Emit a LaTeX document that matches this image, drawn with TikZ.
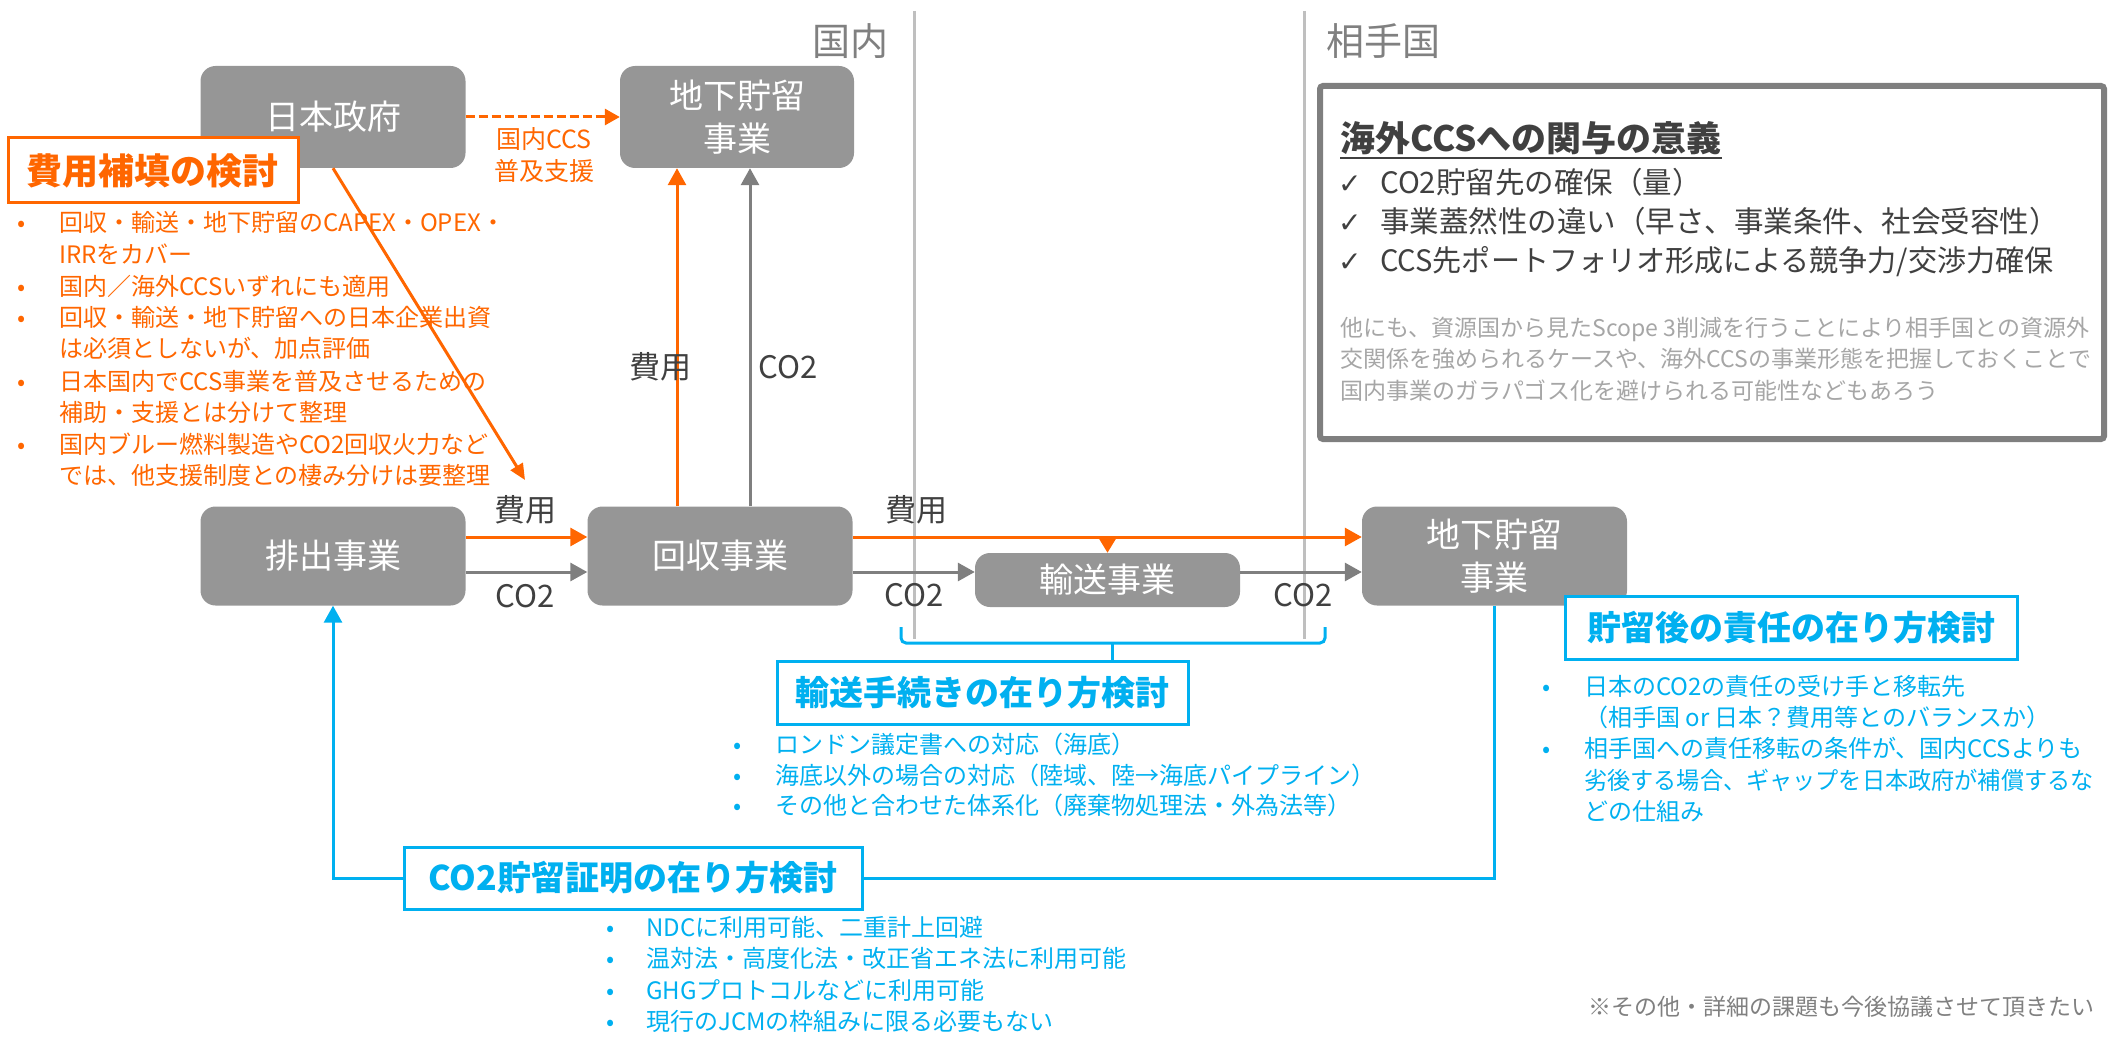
\documentclass[tikz,border=0pt]{standalone}
\usepackage{fontspec}
\usepackage{graphicx}
\setmainfont{Noto Sans CJK JP}
\newfontfamily\symfont{DejaVu Sans}
\usetikzlibrary{arrows.meta}
\definecolor{boxgray}{RGB}{150,150,150}
\definecolor{orng}{RGB}{255,102,0}
\definecolor{cyn}{RGB}{0,176,240}
\definecolor{dgray}{RGB}{64,64,64}
\definecolor{agray}{RGB}{127,127,127}
\definecolor{lgray}{RGB}{191,191,191}
\definecolor{pgray}{RGB}{166,166,166}
\definecolor{mgray}{RGB}{128,128,128}
\newcommand\fntbox{\fontsize{34}{43}\selectfont}
\newcommand\fntlab{\fontsize{31}{38}\selectfont}
\newcommand\fntbody{\fontsize{24}{30}\selectfont}
\newcommand\fnttitle{\bfseries\fontsize{34}{40}\selectfont}
\begin{document}
\begin{tikzpicture}[x=1pt,y=-1pt,
  gbox/.style={fill=boxgray, rounded corners=15pt, text=white, font=\fntbox, align=center, inner sep=0pt, minimum width=265pt, minimum height=99pt},
  lab/.style={text=dgray, font=\fntlab, inner sep=0pt},
  ttl/.style={draw, line width=3pt, fill=white, font=\fnttitle, inner sep=0pt},
  tl/.style={anchor=base west, inner sep=0pt, font=\fntbody},
  arr/.style={line width=3pt, -{Triangle[length=17pt,width=18pt]}},
  oarr/.style={arr, draw=orng},
  garr/.style={arr, draw=agray},
]
\useasboundingbox (0,0) rectangle (2109,1043);

% dividers
\draw[lgray, line width=3pt] (914,11) -- (914,639);
\draw[lgray, line width=3pt] (1304,11) -- (1304,639);
\node[text=mgray, font=\fontsize{38}{44}\selectfont, inner sep=0pt] (lbldom) at (850,41) {国内};
\node[text=mgray, font=\fontsize{38}{44}\selectfont, inner sep=0pt] (lblfor) at (1383,41) {相手国};

% gray boxes
\node[gbox, minimum height=102pt] (gov) at (333,117) {日本政府};
\node[gbox, minimum width=234pt, minimum height=102pt] (storD) at (737,117) {地下貯留\\事業};
\node[gbox] (emit) at (333,556) {排出事業};
\node[gbox] (collect) at (720,556) {回収事業};
\node[gbox, minimum height=54pt] (trans) at (1107.5,580) {輸送事業};
\node[gbox] (storR) at (1494.5,556) {地下貯留\\事業};

% helper coordinates
\coordinate (vxo) at (677,0);
\coordinate (vxg) at (750,0);
\coordinate (hyo) at (0,537);
\coordinate (hyg) at (0,572);
\coordinate (diagend) at (525,480);

% dashed arrow
\draw[orng, line width=3pt, dash pattern=on 9pt off 4pt, -{Triangle[length=15pt,width=16pt]}] (gov.east) -- (storD.west);
\node[text=orng, font=\fontsize{25}{32}\selectfont, align=center, inner sep=0pt] (ccssup) at (544,155) {国内CCS\\普及支援};

% vertical arrows
\draw[oarr] (vxo |- collect.north) -- (vxo |- storD.south);
\draw[garr] (vxg |- collect.north) -- (vxg |- storD.south);
\node[lab] (l1) at (660,367) {費用};
\node[lab] (l2) at (788,367) {CO2};

% horizontal arrows
\draw[oarr] (emit.east |- hyo) -- (collect.west |- hyo);
\draw[garr] (emit.east |- hyg) -- (collect.west |- hyg);
\node[lab] (l3) at (525,510) {費用};
\node[lab] (l4) at (525,596) {CO2};
\draw[oarr] (collect.east |- hyo) -- (storR.west |- hyo);
\draw[oarr, -{Triangle[length=14pt,width=16pt]}] (trans.north |- hyo) -- (trans.north);
\draw[garr] (collect.east |- hyg) -- (trans.west |- hyg);
\draw[garr] (trans.east |- hyg) -- (storR.west |- hyg);
\node[lab] (l5) at (916,510) {費用};
\node[lab] (l6) at (914,595) {CO2};
\node[lab] (l7) at (1303,595) {CO2};

% brace
\draw[cyn, line width=3pt, rounded corners=5pt] (901,627) -- (901,643) -- (1325,643) -- (1325,627);
\draw[cyn, line width=3pt] (1112,643) -- (1112,660);

% orange section
\node[ttl, draw=orng, text=orng, font=\bfseries\fontsize{36}{40}\selectfont, minimum width=290pt, minimum height=65pt] (costbox) at (153,170.5) {費用補填の検討};
\begin{scope}[every node/.style={text=orng}]
\node[tl] (ob1) at (17,232) {•};
\node[tl] (o1) at (59,232) {回収・輸送・地下貯留のCAPEX・OPEX・};
\node[tl] (o2) at (59,263) {IRRをカバー};
\node[tl] (ob2) at (17,295) {•};
\node[tl] (o3) at (59,295) {国内／海外CCSいずれにも適用};
\node[tl] (ob3) at (17,326) {•};
\node[tl] (o4) at (59,326) {回収・輸送・地下貯留への日本企業出資};
\node[tl] (o5) at (59,357) {は必須としないが、加点評価};
\node[tl] (ob4) at (17,390) {•};
\node[tl] (o6) at (59,390) {日本国内でCCS事業を普及させるための};
\node[tl] (o7) at (59,421) {補助・支援とは分けて整理};
\node[tl] (ob5) at (17,453) {•};
\node[tl] (o8) at (59,453) {国内ブルー燃料製造やCO2回収火力など};
\node[tl] (o9) at (59,484) {では、他支援制度との棲み分けは要整理};
\end{scope}
\draw[orng, line width=3pt, -{Triangle[length=16pt,width=14pt]}] (gov.south) -- (diagend);

% big gray box
\draw[agray, line width=6pt, rounded corners=3pt] (1320,86) rectangle (2104,439);
\node[tl, font=\bfseries\fontsize{35}{40}\selectfont, text=dgray] (sigt) at (1340,152) {海外CCSへの関与の意義};
\draw[dgray, line width=2pt] ([yshift=-6pt]sigt.base west) -- ([yshift=-6pt]sigt.base east);
\begin{scope}[every node/.style={text=dgray}]
\node[tl, font=\symfont\fontsize{28}{30}\selectfont] (ck1) at (1338,194) {✓};
\node[tl, font=\fontsize{29.5}{36}\selectfont] (s1) at (1380,194) {CO2貯留先の確保（量）};
\node[tl, font=\symfont\fontsize{28}{30}\selectfont] (ck2) at (1338,233) {✓};
\node[tl, font=\fontsize{29.5}{36}\selectfont] (s2) at (1380,233) {事業蓋然性の違い（早さ、事業条件、社会受容性）};
\node[tl, font=\symfont\fontsize{28}{30}\selectfont] (ck3) at (1338,271) {✓};
\node[tl, font=\fontsize{29.5}{36}\selectfont] (s3) at (1380,271) {\scalebox{0.985}[1]{CCS先ポートフォリオ形成による競争力/交渉力確保}};
\end{scope}
\begin{scope}[every node/.style={text=pgray}]
\node[tl, font=\fontsize{23}{30}\selectfont] (p1) at (1340,336) {他にも、資源国から見たScope 3削減を行うことにより相手国との資源外};
\node[tl, font=\fontsize{23}{30}\selectfont] (p2) at (1340,367) {交関係を強められるケースや、海外CCSの事業形態を把握しておくことで};
\node[tl, font=\fontsize{23}{30}\selectfont] (p3) at (1340,399) {国内事業のガラパゴス化を避けられる可能性などもあろう};
\end{scope}

% transport section
\node[ttl, draw=cyn, text=cyn, minimum width=411pt, minimum height=63pt] (transbox) at (982.5,692.5) {輸送手続きの在り方検討};
\begin{scope}[every node/.style={text=cyn}]
\node[tl] (tb1) at (733,753) {•};
\node[tl] (t1) at (775,753) {ロンドン議定書への対応（海底）};
\node[tl] (tb2) at (733,784) {•};
\node[tl] (t2) at (775,784) {海底以外の場合の対応（陸域、陸→海底パイプライン）};
\node[tl] (tb3) at (733,814) {•};
\node[tl] (t3) at (775,814) {その他と合わせた体系化（廃棄物処理法・外為法等）};
\end{scope}

% liability section
\node[ttl, draw=cyn, text=cyn, minimum width=452pt, minimum height=63pt] (liabbox) at (1791,627.5) {貯留後の責任の在り方検討};
\begin{scope}[every node/.style={text=cyn}]
\node[tl] (rb1) at (1542,695) {•};
\node[tl] (r1) at (1584,695) {日本のCO2の責任の受け手と移転先};
\node[tl] (r2) at (1584,726) {（相手国 or 日本？費用等とのバランスか）};
\node[tl] (rb2) at (1542,757) {•};
\node[tl] (r3) at (1584,757) {相手国への責任移転の条件が、国内CCSよりも};
\node[tl] (r4) at (1584,789) {\scalebox{0.965}[1]{劣後する場合、ギャップを日本政府が補償するな}};
\node[tl] (r5) at (1584,820) {どの仕組み};
\end{scope}

% CO2 certificate section
\node[ttl, draw=cyn, text=cyn, minimum width=458pt, minimum height=62pt] (certbox) at (633,878) {CO2貯留証明の在り方検討};
\draw[cyn, line width=3pt] (storR.south) |- (certbox.east);
\draw[cyn, line width=3pt, -{Triangle[length=17pt,width=18pt]}] (certbox.west) -| (emit.south);
\begin{scope}[every node/.style={text=cyn}]
\node[tl] (cb1) at (606,936) {•};
\node[tl] (c1) at (646,936) {NDCに利用可能、二重計上回避};
\node[tl] (cb2) at (606,967) {•};
\node[tl] (c2) at (646,967) {温対法・高度化法・改正省エネ法に利用可能};
\node[tl] (cb3) at (606,999) {•};
\node[tl] (c3) at (646,999) {GHGプロトコルなどに利用可能};
\node[tl] (cb4) at (606,1030) {•};
\node[tl] (c4) at (646,1030) {現行のJCMの枠組みに限る必要もない};
\end{scope}

\node[tl, text=mgray, font=\fontsize{23}{30}\selectfont] (note) at (1588,1015) {※その他・詳細の課題も今後協議させて頂きたい};
\end{tikzpicture}
\end{document}
